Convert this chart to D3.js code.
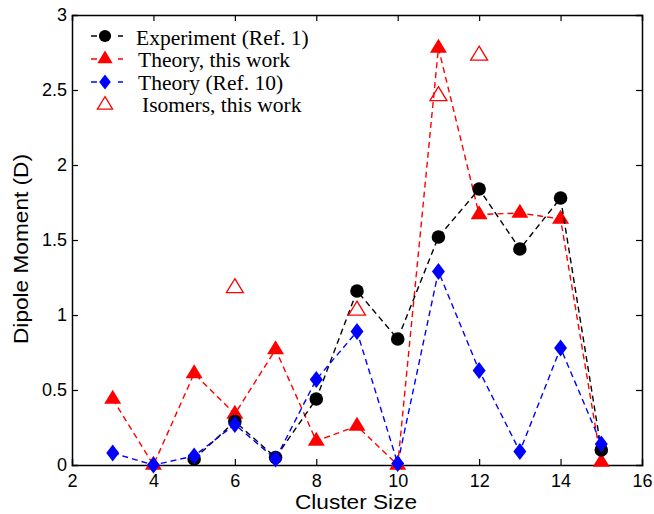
<!DOCTYPE html>
<html>
<head>
<meta charset="utf-8">
<script src="https://cdn.jsdelivr.net/npm/d3@7"></script>
<style>
  html, body { margin: 0; padding: 0; background: #fff; }
  svg { display: block; }
</style>
</head>
<body>
<svg id="chart" width="654" height="514"></svg>
<script>
// Cluster sizes and dipole moments (Debye)
const expSizes   = [5, 6, 7, 8, 9, 10, 11, 12, 13, 14, 15];
const expValues  = [0.04, 0.29, 0.05, 0.44, 1.16, 0.84, 1.52, 1.84, 1.44, 1.78, 0.10];

const thSizes    = [3, 4, 5, 6, 7, 8, 9, 10, 11, 12, 13, 14, 15];
const thValues   = [0.44, 0.0, 0.61, 0.34, 0.77, 0.16, 0.26, 0.0, 2.78, 1.67, 1.68, 1.64, 0.02];

const refSizes   = [3, 4, 5, 6, 7, 8, 9, 10, 11, 12, 13, 14, 15];
const refValues  = [0.08, 0.0, 0.06, 0.27, 0.04, 0.57, 0.89, 0.01, 1.29, 0.63, 0.09, 0.78, 0.14];

const isoSizes   = [6, 9, 11, 12];
const isoValues  = [1.18, 1.03, 2.46, 2.73];

const xTicks = [2, 4, 6, 8, 10, 12, 14, 16];
const yTicks = [0, 0.5, 1, 1.5, 2, 2.5, 3];
const yTickLabels = ["0", "0.5", "1", "1.5", "2", "2.5", "3"];

const legendLabels = ["Experiment (Ref. 1)", "Theory, this work", "Theory (Ref. 10)", "Isomers, this work"];

const svg = d3.select("#chart");
const plotL = 72, plotR = 642, plotT = 15, plotB = 465;

const x = d3.scaleLinear().domain([2, 16]).range([plotL, plotR]);
const y = d3.scaleLinear().domain([0, 3]).range([plotB, plotT]);

const sans = "'Liberation Sans', Arial, sans-serif";
const serif = "'Liberation Serif', 'Times New Roman', serif";

// Axes: ticks pointing inward on all four sides
const tickLen = 6;
const axB = svg.append("g").attr("transform", `translate(0,${plotB})`)
  .call(d3.axisBottom(x).tickValues(xTicks).tickSize(-tickLen).tickFormat(d3.format("d")));
const axT = svg.append("g").attr("transform", `translate(0,${plotT})`)
  .call(d3.axisTop(x).tickValues(xTicks).tickSize(-tickLen).tickFormat(""));
const axL = svg.append("g").attr("transform", `translate(${plotL},0)`)
  .call(d3.axisLeft(y).tickValues(yTicks).tickSize(-tickLen).tickPadding(5).tickFormat((d, i) => yTickLabels[i]));
const axR = svg.append("g").attr("transform", `translate(${plotR},0)`)
  .call(d3.axisRight(y).tickValues(yTicks).tickSize(-tickLen).tickFormat(""));

[axB, axT, axL, axR].forEach(g => {
  g.select(".domain").attr("stroke", "#000").attr("stroke-width", 1.5);
  g.selectAll(".tick line").attr("stroke", "#000").attr("stroke-width", 1.2);
  g.selectAll(".tick text").attr("fill", "#000").style("font-family", sans).style("font-size", "18px");
});
// no tick marks on the box corners
axB.selectAll(".tick").filter(d => d === 2 || d === 16).select("line").remove();
axT.selectAll(".tick").filter(d => d === 2 || d === 16).select("line").remove();
axL.selectAll(".tick").filter(d => d === 0 || d === 3).select("line").remove();
axR.selectAll(".tick").filter(d => d === 0 || d === 3).select("line").remove();
axB.selectAll(".tick text").attr("y", 22).attr("dy", 0);

// Axis titles
svg.append("text")
  .attr("x", 356).attr("y", 509)
  .attr("text-anchor", "middle")
  .attr("textLength", 122).attr("lengthAdjust", "spacingAndGlyphs")
  .style("font-family", sans).style("font-size", "20px")
  .text("Cluster Size");
svg.append("text")
  .attr("transform", `translate(28,249) rotate(-90)`)
  .attr("text-anchor", "middle")
  .attr("textLength", 190).attr("lengthAdjust", "spacingAndGlyphs")
  .style("font-family", sans).style("font-size", "20.5px")
  .text("Dipole Moment (D)");

const dash = "6,4";
const line = d3.line().x(d => x(d[0])).y(d => y(d[1]));

const sym = {
  circle: d3.symbol().type(d3.symbolCircle).size(145),
  triangle: d3.symbol().type(d3.symbolTriangle).size(120),
  diamond: d3.symbol().type(d3.symbolDiamond).size(120)
};
const shape = {
  circle: { s: sym.circle, sx: 1, sy: 1 },
  triangle: { s: sym.triangle, sx: 1.02, sy: 0.97 },
  diamond: { s: sym.diamond, sx: 1.1, sy: 0.83 }
};

function series(sizes, values, color, m, filled, drawLine) {
  const pts = sizes.map((s, i) => [s, values[i]]);
  const g = svg.append("g");
  if (drawLine) {
    g.append("path").datum(pts)
      .attr("d", line)
      .attr("fill", "none").attr("stroke", color)
      .attr("stroke-width", 1.4).attr("stroke-dasharray", dash);
  }
  g.selectAll("path.m").data(pts).join("path")
    .attr("class", "m")
    .attr("d", m.s)
    .attr("transform", d => `translate(${x(d[0])},${y(d[1])}) scale(${m.sx},${m.sy})`)
    .attr("fill", filled ? color : "none")
    .attr("stroke", color)
    .attr("stroke-width", filled ? 0 : 1.3);
  return g;
}

series(thSizes, thValues, "#ff0000", shape.triangle, true, true);
series(expSizes, expValues, "#000000", shape.circle, true, true);
series(refSizes, refValues, "#0000ff", shape.diamond, true, true);
series(isoSizes, isoValues, "#ff0000", shape.triangle, false, false);

// Legend
const legend = svg.append("g");
const markerY = [36, 59, 82, 105];
const textY = [45, 67, 89.5, 112];
const textX = [136, 138, 138, 142];
const legendDefs = [
  { color: "#000000", m: shape.circle, filled: true, line: true },
  { color: "#ff0000", m: shape.triangle, filled: true, line: true },
  { color: "#0000ff", m: shape.diamond, filled: true, line: true },
  { color: "#ff0000", m: shape.triangle, filled: false, line: false }
];
legendDefs.forEach((d, i) => {
  const cy = markerY[i];
  if (d.line) {
    legend.append("line").attr("x1", 91).attr("x2", 123).attr("y1", cy).attr("y2", cy)
      .attr("stroke", d.color).attr("stroke-width", 1.4).attr("stroke-dasharray", "6,21");
  }
  legend.append("path")
    .attr("d", d.m.s)
    .attr("transform", `translate(105,${cy}) scale(${d.m.sx * 0.9},${d.m.sy * 0.9})`)
    .attr("fill", d.filled ? d.color : "none")
    .attr("stroke", d.color)
    .attr("stroke-width", d.filled ? 0 : 1.4);
  legend.append("text")
    .attr("x", textX[i]).attr("y", textY[i])
    .style("font-family", serif).style("font-size", "21.5px")
    .text(legendLabels[i]);
});
</script>
</body>
</html>
